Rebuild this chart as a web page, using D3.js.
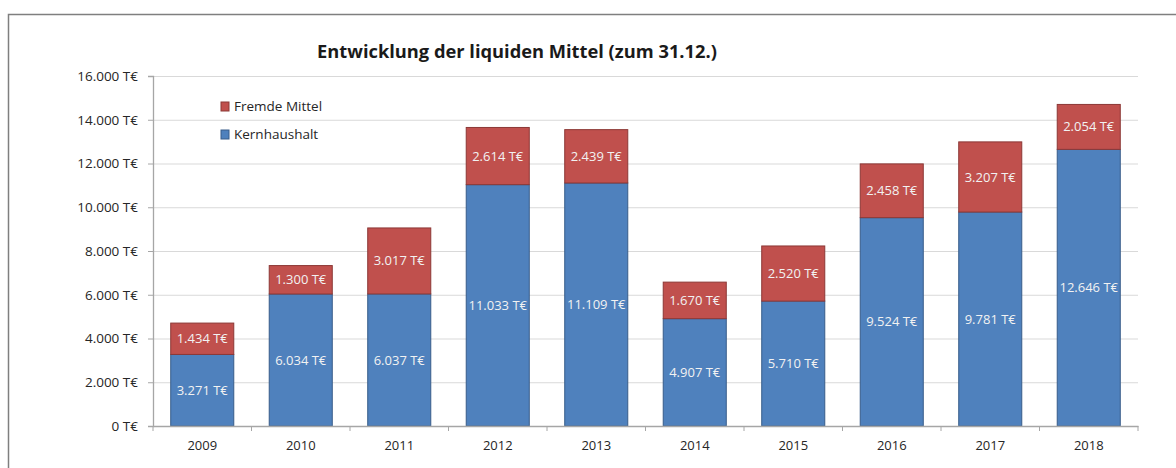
<!doctype html>
<html>
<meta charset="utf-8">
<style>
body { margin: 0; padding: 0; background: #fff; font-family: 'Open Sans', sans-serif; }
svg text { font-family: 'Open Sans', sans-serif; }
</style>
<body>
<svg width="1176" height="468"></svg>
<script src="https://cdn.jsdelivr.net/npm/d3@7"></script>
<script>

// data
var years = ["2009", "2010", "2011", "2012", "2013", "2014", "2015", "2016", "2017", "2018"];
var kernhaushalt = [3271, 6034, 6037, 11033, 11109, 4907, 5710, 9524, 9781, 12646];
var fremdeMittel = [1434, 1300, 3017, 2614, 2439, 1670, 2520, 2458, 3207, 2054];
var yTicks = [0, 2000, 4000, 6000, 8000, 10000, 12000, 14000, 16000];
var seriesNames = ["Kernhaushalt", "Fremde Mittel"];

var colors = { "Kernhaushalt": "#4F81BD", "Fremde Mittel": "#C0504D" };
var strokes = { "Kernhaushalt": "#385D8A", "Fremde Mittel": "#8C3836" };

var fmt = function(v) { return d3.format(",")(v).replace(/,/g, ".") + " T€"; };

var svg = d3.select("svg");

// outer frame (runs off the right and bottom edge)
svg.append("rect")
    .attr("x", 8.5).attr("y", 14.5)
    .attr("width", 1200).attr("height", 500)
    .attr("fill", "none")
    .attr("stroke", "#7f7f7f")
    .attr("stroke-width", 1.5);

var margin = {left: 153, right: 1138, top: 76, bottom: 426};

var x = d3.scaleBand()
    .domain(years)
    .range([margin.left, margin.right])
    .paddingInner(0.36)
    .paddingOuter(0.18);

var y = d3.scaleLinear()
    .domain([0, 16000])
    .range([margin.bottom, margin.top]);

// gridlines
svg.append("g")
  .selectAll("line")
  .data(yTicks.filter(function(d) { return d > 0; }))
  .join("line")
    .attr("x1", margin.left).attr("x2", margin.right)
    .attr("y1", function(d) { return y(d) + 0.5; })
    .attr("y2", function(d) { return y(d) + 0.5; })
    .attr("stroke", "#d9d9d9")
    .attr("stroke-width", 1.2);

// stacked bars
var rows = years.map(function(yr, i) {
  return { year: yr, "Kernhaushalt": kernhaushalt[i], "Fremde Mittel": fremdeMittel[i] };
});
var stacked = d3.stack().keys(seriesNames)(rows);

var layers = svg.append("g")
  .selectAll("g")
  .data(stacked)
  .join("g")
    .attr("fill", function(d) { return colors[d.key]; })
    .attr("stroke", function(d) { return strokes[d.key]; });

layers.selectAll("rect")
  .data(function(d) { return d; })
  .join("rect")
    .attr("x", function(d) { return x(d.data.year); })
    .attr("y", function(d) { return y(d[1]); })
    .attr("width", x.bandwidth())
    .attr("height", function(d) { return y(d[0]) - y(d[1]); })
    .attr("stroke-width", 1);

// value labels
layers.each(function(layer) {
  d3.select(this).selectAll("text")
    .data(layer)
    .join("text")
      .attr("x", function(d) { return x(d.data.year) + x.bandwidth() / 2; })
      .attr("y", function(d) { return (y(d[0]) + y(d[1])) / 2; })
      .attr("dy", "0.35em")
      .attr("text-anchor", "middle")
      .attr("stroke", "none")
      .attr("fill", "#f2f2f2")
      .style("font-size", "13px")
      .text(function(d) { return fmt(d[1] - d[0]); });
});

// y axis
var yAxis = svg.append("g")
    .attr("transform", "translate(" + margin.left + ",0)")
    .call(d3.axisLeft(y).tickValues(yTicks).tickSize(5).tickPadding(10).tickFormat(fmt));
yAxis.select(".domain").attr("stroke", "#a6a6a6").attr("stroke-width", 1.3);
yAxis.selectAll(".tick line").attr("stroke", "#a6a6a6");
yAxis.selectAll("text").style("font-size", "13.5px").attr("fill", "#262626");

// x axis
var xAxis = svg.append("g")
    .attr("transform", "translate(0," + margin.bottom + ")")
    .call(d3.axisBottom(x).tickSize(0).tickPadding(15));
xAxis.select(".domain").attr("stroke", "#a6a6a6").attr("stroke-width", 1.3);
xAxis.selectAll("text").style("font-size", "13px").attr("fill", "#262626");

// category separators below the axis
svg.append("g")
  .selectAll("line")
  .data(d3.range(years.length + 1))
  .join("line")
    .attr("x1", function(i) { return margin.left + i * x.step(); })
    .attr("x2", function(i) { return margin.left + i * x.step(); })
    .attr("y1", margin.bottom)
    .attr("y2", margin.bottom + 5)
    .attr("stroke", "#a6a6a6");

// title
svg.append("text")
    .attr("x", 517).attr("y", 58)
    .attr("text-anchor", "middle")
    .style("font-size", "18.3px")
    .style("font-weight", "bold")
    .attr("fill", "#1a1a1a")
    .text("Entwicklung der liquiden Mittel (zum 31.12.)");

// legend
var legendItems = ["Fremde Mittel", "Kernhaushalt"];
var legend = svg.append("g")
  .selectAll("g")
  .data(legendItems)
  .join("g")
    .attr("transform", function(d, i) { return "translate(221," + (102 + i * 28) + ")"; });
legend.append("rect")
    .attr("width", 8).attr("height", 9)
    .attr("fill", function(d) { return colors[d]; })
    .attr("stroke", function(d) { return strokes[d]; });
legend.append("text")
    .attr("x", 13).attr("y", 4.5).attr("dy", "0.35em")
    .style("font-size", "13.5px")
    .attr("fill", "#262626")
    .text(function(d) { return d; });

</script>
</body>
</html>
